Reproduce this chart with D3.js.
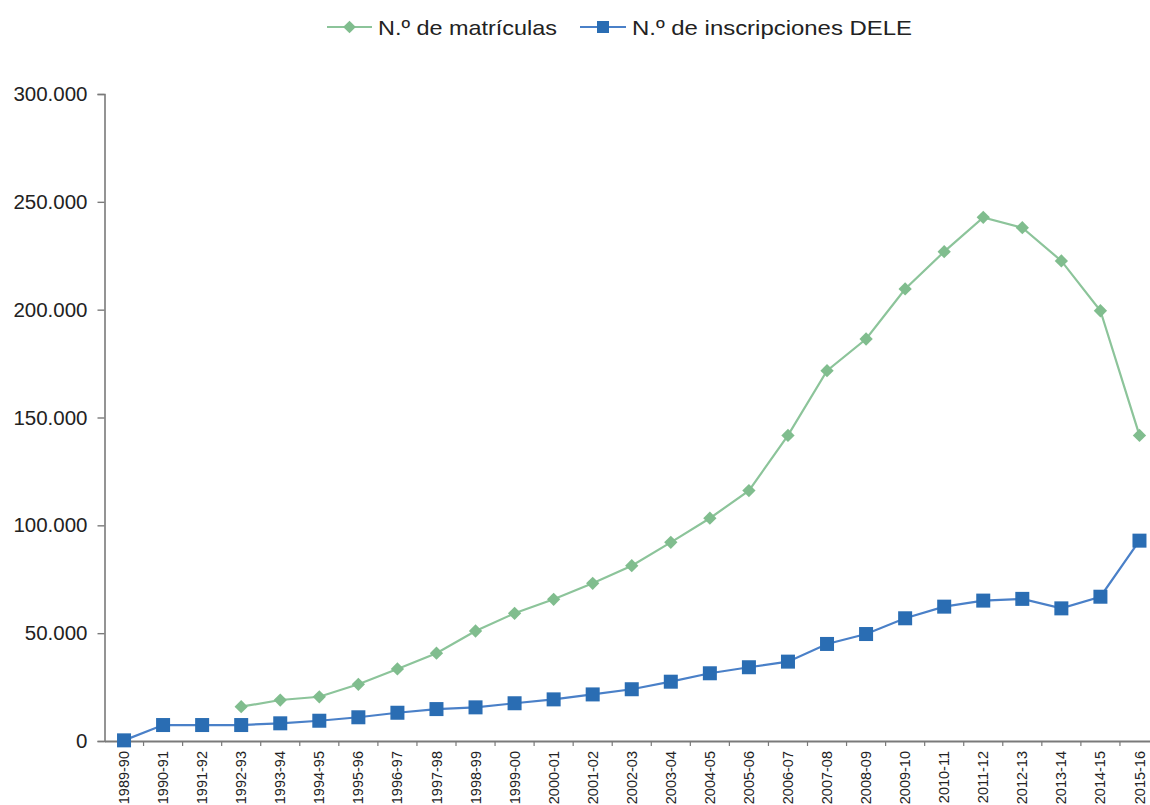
<!DOCTYPE html>
<html><head><meta charset="utf-8">
<script src="https://cdn.jsdelivr.net/npm/d3@7"></script>
<style>html,body{margin:0;padding:0;background:#fff;}svg{display:block;font-family:"Liberation Sans",Arial,sans-serif;}</style>
</head><body>
<svg id="c" width="1150" height="805"></svg>
<script>
const categories = ["1989-90","1990-91","1991-92","1992-93","1993-94","1994-95","1995-96","1996-97","1997-98","1998-99","1999-00","2000-01","2001-02","2002-03","2003-04","2004-05","2005-06","2006-07","2007-08","2008-09","2009-10","2010-11","2011-12","2012-13","2013-14","2014-15","2015-16"];
const matriculas = [null,null,null,15900,19000,20500,26300,33400,40700,51000,59200,65700,73100,81300,92100,103300,116100,141700,171700,186400,209600,226900,242800,238000,222600,199500,141700];
const dele = [300,7400,7400,7400,8200,9400,11000,13100,14800,15600,17500,19300,21600,24000,27500,31400,34200,36800,45000,49600,56900,62300,65100,65900,61500,66900,92900];
const yTicks = [0,50000,100000,150000,200000,250000,300000];
const seriesNames = ["N.º de matrículas","N.º de inscripciones DELE"];

const svg = d3.select("#c");
const mLeft = 104.5, mRight = 1159, mTop = 94, mBottom = 741;
const x = d3.scaleBand().domain(categories).range([mLeft, mRight]);
const y = d3.scaleLinear().domain([0,300000]).range([mBottom, mTop]);
const loc = d3.formatLocale({decimal:",", thousands:".", grouping:[3], currency:["","€"]});
const fmt = loc.format(",d");
const green = "#80bd8e", greenLine = "#8cc49a", blue = "#2a6db3", blueLine = "#4a80c8", axisCol = "#7a7a7a";

// Y axis
const ya = svg.append("g").attr("transform",`translate(${mLeft},0)`)
  .call(d3.axisLeft(y).tickValues(yTicks).tickFormat(fmt).tickSize(7).tickPadding(10));
ya.select(".domain").attr("stroke",axisCol).attr("stroke-width",1.6);
ya.selectAll(".tick line").attr("stroke",axisCol).attr("stroke-width",1.4);
ya.selectAll(".tick text").attr("fill","#222").style("font-size","20.5px").style("font-family","'Liberation Sans',Arial,sans-serif");

// X axis
const xa = svg.append("g").attr("transform",`translate(0,${mBottom})`)
  .call(d3.axisBottom(x).tickSize(0).tickPadding(0));
xa.select(".domain").attr("stroke",axisCol).attr("stroke-width",1.8);
xa.selectAll("line.bt").data(categories.slice(1)).enter().append("line").attr("class","bt")
  .attr("x1",d=>x(d)).attr("x2",d=>x(d)).attr("y1",0).attr("y2",5)
  .attr("stroke",axisCol).attr("stroke-width",1.2);
xa.selectAll(".tick text")
  .attr("transform","rotate(-90)")
  .attr("x",-10).attr("y",0).attr("dy","0.35em")
  .attr("text-anchor","end").attr("fill","#222")
  .style("font-size","14.5px").style("font-family","'Liberation Sans',Arial,sans-serif");

const cx = d => x(d) + x.bandwidth()/2;

// Green series
const gData = categories.map((c,i)=>({c, v:matriculas[i]})).filter(d=>d.v!==null);
svg.append("path").datum(gData).attr("fill","none").attr("stroke",greenLine).attr("stroke-width",2.2)
  .attr("d", d3.line().x(d=>cx(d.c)).y(d=>y(d.v)));
svg.selectAll("path.dm").data(gData).enter().append("path").attr("class","dm")
  .attr("transform",d=>`translate(${cx(d.c)},${y(d.v)}) rotate(45)`)
  .attr("d","M-4.7,-4.7H4.7V4.7H-4.7Z").attr("fill",green);

// Blue series
const bData = categories.map((c,i)=>({c, v:dele[i]}));
svg.append("path").datum(bData).attr("fill","none").attr("stroke",blueLine).attr("stroke-width",2.2)
  .attr("d", d3.line().x(d=>cx(d.c)).y(d=>y(d.v)));
svg.selectAll("rect.sq").data(bData).enter().append("rect").attr("class","sq")
  .attr("x",d=>cx(d.c)-7).attr("y",d=>y(d.v)-7).attr("width",14).attr("height",14)
  .attr("fill",blue);

// Legend
const lg = svg.append("g");
lg.append("line").attr("x1",327).attr("x2",372).attr("y1",27).attr("y2",27).attr("stroke",greenLine).attr("stroke-width",2.2);
lg.append("path").attr("transform","translate(349.5,27) rotate(45)").attr("d","M-4.5,-4.5H4.5V4.5H-4.5Z").attr("fill",green);
lg.append("text").attr("x",378).attr("y",34.5).text(seriesNames[0]).attr("fill","#222").style("font-size","21px")
  .attr("textLength",179).attr("lengthAdjust","spacingAndGlyphs");
lg.append("line").attr("x1",580).attr("x2",626).attr("y1",27).attr("y2",27).attr("stroke",blueLine).attr("stroke-width",2.2);
lg.append("rect").attr("x",597).attr("y",21).attr("width",12).attr("height",12).attr("fill",blue);
lg.append("text").attr("x",632).attr("y",34.5).text(seriesNames[1]).attr("fill","#222").style("font-size","21px")
  .attr("textLength",280).attr("lengthAdjust","spacingAndGlyphs");
</script>
</body></html>
